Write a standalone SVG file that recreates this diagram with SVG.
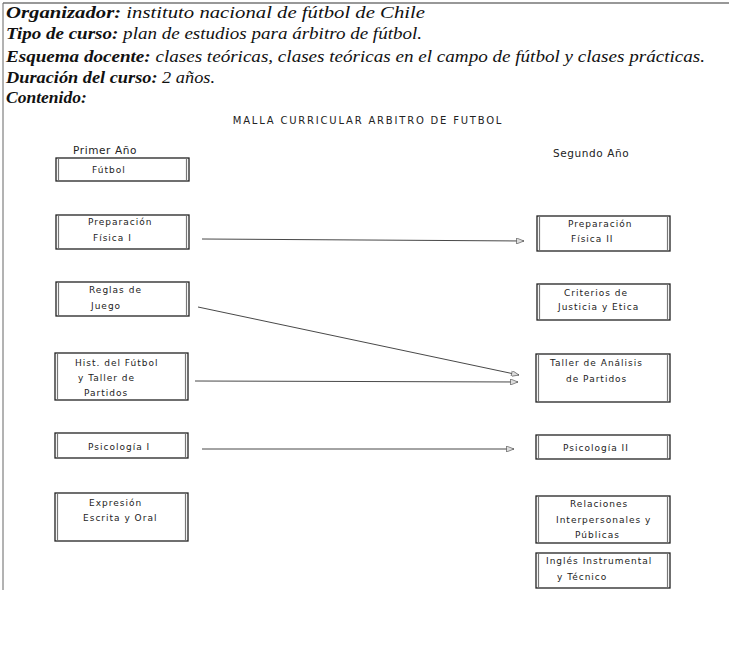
<svg xmlns="http://www.w3.org/2000/svg" width="729" height="656" viewBox="0 0 729 656">
<defs>
<style>
.hdr{font-family:"Liberation Serif",serif;font-style:italic;font-size:17.5px;fill:#111}
.hdr tspan.b{font-weight:bold}
.ttl{font-family:"DejaVu Sans",sans-serif;font-size:10px;fill:#222;letter-spacing:1.8px}
.col{font-family:"DejaVu Sans",sans-serif;font-size:10.5px;fill:#222;letter-spacing:0.6px}
.bx{fill:#fff;stroke:#222;stroke-width:1.3}
.ed{stroke:#777;stroke-width:1.2}
.bt{font-family:"DejaVu Sans",sans-serif;font-size:9px;fill:#222;letter-spacing:1px}
.cn{stroke:#333;stroke-width:0.9;fill:none;marker-end:url(#ah)}
</style>
<marker id="ah" viewBox="0 0 10 8" refX="10" refY="4" markerWidth="10" markerHeight="6" markerUnits="userSpaceOnUse" orient="auto">
<path d="M0,0 L10,4 L0,8 Z" fill="#ddd" stroke="#444" stroke-width="0.8"/>
</marker>
</defs>
<rect width="729" height="656" fill="#fff"/>
<g id="frame">
<line x1="3" y1="3" x2="729" y2="3" stroke="#333" stroke-width="1.2"/>
<line x1="3" y1="3" x2="3" y2="590" stroke="#666" stroke-width="1"/>
</g>
<g id="header">
<text class="hdr" x="6" y="18" textLength="419" lengthAdjust="spacingAndGlyphs"><tspan class="b">Organizador:</tspan> instituto nacional de fútbol de Chile</text>
<text class="hdr" x="6" y="39" textLength="416" lengthAdjust="spacingAndGlyphs"><tspan class="b">Tipo de curso:</tspan> plan de estudios para árbitro de fútbol.</text>
<text class="hdr" x="6" y="62" textLength="699" lengthAdjust="spacingAndGlyphs"><tspan class="b">Esquema docente:</tspan> clases teóricas, clases teóricas en el campo de fútbol y clases prácticas.</text>
<text class="hdr" x="6" y="83" textLength="209" lengthAdjust="spacingAndGlyphs"><tspan class="b">Duración del curso:</tspan> 2 años.</text>
<text class="hdr" x="6" y="103"><tspan class="b">Contenido:</tspan></text>
<text class="ttl" x="368" y="124" text-anchor="middle">MALLA CURRICULAR ARBITRO DE FUTBOL</text>
<text class="col" x="73" y="154">Primer Año</text>
<text class="col" x="553" y="157">Segundo Año</text>
</g>
<g id="connectors">
<line class="cn" x1="202" y1="239" x2="524" y2="241"/>
<line class="cn" x1="198" y1="307" x2="519" y2="375"/>
<line class="cn" x1="195" y1="381" x2="518" y2="382"/>
<line class="cn" x1="202" y1="449" x2="514" y2="449"/>
</g>
<g id="n-futbol">
<rect class="bx" x="56" y="158" width="133" height="23"/>
<line class="ed" x1="58.5" y1="159" x2="58.5" y2="180"/><line class="ed" x1="186.5" y1="159" x2="186.5" y2="180"/>
<text class="bt" x="92" y="173">Fútbol</text>
</g>
<g id="n-prep1">
<rect class="bx" x="56" y="215" width="133" height="34"/>
<line class="ed" x1="58.5" y1="216" x2="58.5" y2="248"/><line class="ed" x1="186.5" y1="216" x2="186.5" y2="248"/>
<text class="bt" x="88" y="225">Preparación</text>
<text class="bt" x="93" y="241">Física I</text>
</g>
<g id="n-reglas">
<rect class="bx" x="56" y="282" width="133" height="34"/>
<line class="ed" x1="58.5" y1="283" x2="58.5" y2="315"/><line class="ed" x1="186.5" y1="283" x2="186.5" y2="315"/>
<text class="bt" x="89" y="293">Reglas de</text>
<text class="bt" x="91" y="309">Juego</text>
</g>
<g id="n-hist">
<rect class="bx" x="55" y="353" width="133" height="47"/>
<line class="ed" x1="57.5" y1="354" x2="57.5" y2="399"/><line class="ed" x1="185.5" y1="354" x2="185.5" y2="399"/>
<text class="bt" x="75" y="366">Hist. del Fútbol</text>
<text class="bt" x="78" y="381">y Taller  de</text>
<text class="bt" x="84" y="396">Partidos</text>
</g>
<g id="n-psico1">
<rect class="bx" x="55" y="433" width="133" height="25"/>
<line class="ed" x1="57.5" y1="434" x2="57.5" y2="457"/><line class="ed" x1="185.5" y1="434" x2="185.5" y2="457"/>
<text class="bt" x="88" y="450">Psicología I</text>
</g>
<g id="n-expr">
<rect class="bx" x="55" y="493" width="133" height="48"/>
<line class="ed" x1="57.5" y1="494" x2="57.5" y2="540"/><line class="ed" x1="185.5" y1="494" x2="185.5" y2="540"/>
<text class="bt" x="89" y="506">Expresión</text>
<text class="bt" x="83" y="521">Escrita y Oral</text>
</g>
<g id="n-prep2">
<rect class="bx" x="537" y="216" width="133" height="35"/>
<line class="ed" x1="539.5" y1="217" x2="539.5" y2="250"/><line class="ed" x1="667.5" y1="217" x2="667.5" y2="250"/>
<text class="bt" x="568" y="227">Preparación</text>
<text class="bt" x="571" y="242">Física II</text>
</g>
<g id="n-criterios">
<rect class="bx" x="537" y="284" width="133" height="36"/>
<line class="ed" x1="539.5" y1="285" x2="539.5" y2="319"/><line class="ed" x1="667.5" y1="285" x2="667.5" y2="319"/>
<text class="bt" x="564" y="296">Criterios de</text>
<text class="bt" x="558" y="310">Justicia y Etica</text>
</g>
<g id="n-taller">
<rect class="bx" x="536" y="354" width="134" height="48"/>
<line class="ed" x1="538.5" y1="355" x2="538.5" y2="401"/><line class="ed" x1="667.5" y1="355" x2="667.5" y2="401"/>
<text class="bt" x="550" y="366">Taller de Análisis</text>
<text class="bt" x="566" y="382">de Partidos</text>
</g>
<g id="n-psico2">
<rect class="bx" x="536" y="435" width="134" height="24"/>
<line class="ed" x1="538.5" y1="436" x2="538.5" y2="458"/><line class="ed" x1="667.5" y1="436" x2="667.5" y2="458"/>
<text class="bt" x="563" y="451">Psicología II</text>
</g>
<g id="n-relaciones">
<rect class="bx" x="536" y="496" width="134" height="47"/>
<line class="ed" x1="538.5" y1="497" x2="538.5" y2="542"/><line class="ed" x1="667.5" y1="497" x2="667.5" y2="542"/>
<text class="bt" x="570" y="507">Relaciones</text>
<text class="bt" x="556" y="523">Interpersonales y</text>
<text class="bt" x="575" y="538">Públicas</text>
</g>
<g id="n-ingles">
<rect class="bx" x="536" y="553" width="134" height="35"/>
<line class="ed" x1="538.5" y1="554" x2="538.5" y2="587"/><line class="ed" x1="667.5" y1="554" x2="667.5" y2="587"/>
<text class="bt" x="546" y="564">Inglés Instrumental</text>
<text class="bt" x="557" y="580">y Técnico</text>
</g>
</svg>
